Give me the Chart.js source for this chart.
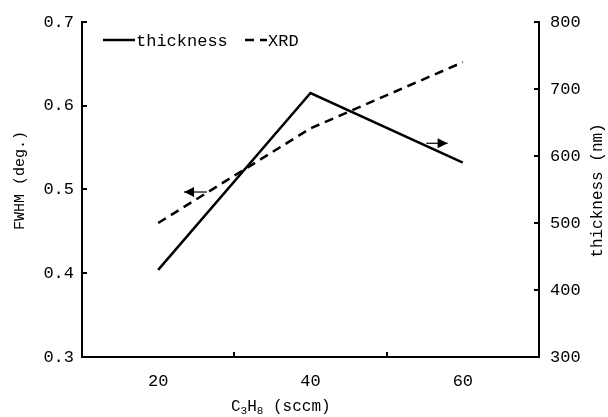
<!DOCTYPE html>
<html>
<head>
<meta charset="utf-8">
<script src="https://cdn.jsdelivr.net/npm/chart.js@4/dist/chart.umd.min.js"></script>
<style>
  html, body { margin: 0; padding: 0; background: #fff; }
  #wrap { width: 608px; height: 417px; }
</style>
</head>
<body>
<div id="wrap"><canvas id="chart"></canvas></div>
<script>
// data
const flowRates = ["20", "40", "60"];          // C3H8 flow (sccm)
const fwhmXrd = [0.46, 0.573, 0.652];          // FWHM (deg.), left axis
const thicknessNm = [430, 694, 590];           // thickness (nm), right axis
const fwhmRange = [0.3, 0.7];
const thicknessRange = [300, 800];

const MONO = "'Liberation Mono', 'DejaVu Sans Mono', monospace";

// extra drawing: inward tick marks, axis titles, legend and the two arrows
const decorations = {
  id: "decorations",
  afterDraw(chart) {
    const ctx = chart.ctx;
    const { left, right, top, bottom } = chart.chartArea;
    const x = chart.scales.x, y = chart.scales.y, y1 = chart.scales.y1;
    ctx.save();
    ctx.strokeStyle = "#000";
    ctx.fillStyle = "#000";
    ctx.lineWidth = 2;

    // tick marks pointing inside the plot
    ctx.beginPath();
    y.ticks.forEach(t => {
      const py = Math.round(y.getPixelForValue(t.value));
      ctx.moveTo(left, py); ctx.lineTo(left + 5, py);
    });
    y1.ticks.forEach(t => {
      const py = Math.round(y1.getPixelForValue(t.value));
      ctx.moveTo(right, py); ctx.lineTo(right - 5, py);
    });
    for (let i = 1; i < flowRates.length; i++) {
      const px = Math.round(x.getPixelForValue(i - 0.5));
      ctx.moveTo(px, bottom); ctx.lineTo(px, bottom - 5);
    }
    ctx.stroke();

    // arrows showing which axis each curve uses
    const arrow = (x0, x1, py) => {
      ctx.lineWidth = 1.2;
      ctx.beginPath(); ctx.moveTo(x0, py); ctx.lineTo(x1, py); ctx.stroke();
      const dir = Math.sign(x1 - x0);
      ctx.beginPath();
      ctx.moveTo(x1, py);
      ctx.lineTo(x1 - dir * 10, py - 5);
      ctx.lineTo(x1 - dir * 10, py + 5);
      ctx.closePath(); ctx.fill();
    };
    arrow(x.getPixelForValue(0.32), x.getPixelForValue(0.17), y.getPixelForValue(0.497));
    arrow(x.getPixelForValue(1.76), x.getPixelForValue(1.9), y1.getPixelForValue(619));

    // axis titles
    ctx.textBaseline = "middle";
    ctx.textAlign = "center";
    ctx.font = "15px " + MONO;
    ctx.save();
    ctx.translate(20, (top + bottom) / 2 - 9);
    ctx.rotate(-Math.PI / 2);
    ctx.fillText("FWHM (deg.)", 0, 0);
    ctx.restore();
    ctx.save();
    ctx.font = "16px " + MONO;
    ctx.translate(598, (top + bottom) / 2 + 1);
    ctx.rotate(-Math.PI / 2);
    ctx.fillText("thickness (nm)", 0, 0);
    ctx.restore();

    // x title with subscripts
    const parts = [["C", 0], ["3", 1], ["H", 0], ["8", 1], [" (sccm)", 0]];
    const big = "16px " + MONO, small = "11px " + MONO;
    let w = 0;
    parts.forEach(p => { ctx.font = p[1] ? small : big; w += ctx.measureText(p[0]).width; });
    let tx = left + (right - left) * 0.435 - w / 2;
    const ty = 407;
    ctx.textAlign = "left";
    parts.forEach(p => {
      ctx.font = p[1] ? small : big;
      ctx.fillText(p[0], tx, p[1] ? ty + 4 : ty);
      tx += ctx.measureText(p[0]).width;
    });

    // legend
    const ly = top + 18;
    ctx.font = "17px " + MONO;
    chart.data.datasets.forEach((ds, i) => {
      const lx = i === 0 ? left + 21 : left + 163;
      const len = i === 0 ? 32 : 22;
      ctx.lineWidth = 2.5;
      ctx.setLineDash(ds.borderDash || []);
      ctx.beginPath(); ctx.moveTo(lx, ly); ctx.lineTo(lx + len, ly); ctx.stroke();
      ctx.setLineDash([]);
      ctx.fillText(ds.label, lx + len + 1, ly + 1);
    });
    ctx.restore();
  }
};

new Chart(document.getElementById("chart"), {
  type: "line",
  data: {
    labels: flowRates,
    datasets: [
      {
        label: "thickness",
        data: thicknessNm,
        yAxisID: "y1",
        borderColor: "#000",
        borderWidth: 2.5,
        pointRadius: 0,
        tension: 0,
      },
      {
        label: "XRD",
        data: fwhmXrd,
        yAxisID: "y",
        borderColor: "#000",
        borderWidth: 2.5,
        borderDash: [9, 6],
        pointRadius: 0,
        tension: 0,
      },
    ],
  },
  options: {
    responsive: true,
    maintainAspectRatio: false,
    animation: false,
    layout: { padding: { top: 22, left: 0, right: 0, bottom: 0 } },
    plugins: { legend: { display: false }, tooltip: { enabled: false } },
    scales: {
      x: {
        type: "category",
        offset: true,
        grid: { offset: true, drawOnChartArea: false, drawTicks: false },
        border: { display: true, color: "#000", width: 2 },
        ticks: { color: "#000", font: { family: MONO, size: 17 }, padding: 14 },
        afterFit: s => { s.height = 60; },
      },
      y: {
        position: "left",
        min: fwhmRange[0],
        max: fwhmRange[1],
        grid: { drawOnChartArea: false, drawTicks: false },
        border: { display: true, color: "#000", width: 2 },
        ticks: {
          stepSize: 0.1,
          color: "#000",
          font: { family: MONO, size: 17 },
          padding: 8,
          callback: v => v.toFixed(1),
        },
        afterFit: s => { s.width = 82; },
      },
      y1: {
        position: "right",
        min: thicknessRange[0],
        max: thicknessRange[1],
        grid: { drawOnChartArea: false, drawTicks: false },
        border: { display: true, color: "#000", width: 2 },
        ticks: { stepSize: 100, color: "#000", font: { family: MONO, size: 17 }, padding: 11 },
        afterFit: s => { s.width = 69; },
      },
    },
  },
  plugins: [decorations],
});
</script>
</body>
</html>
